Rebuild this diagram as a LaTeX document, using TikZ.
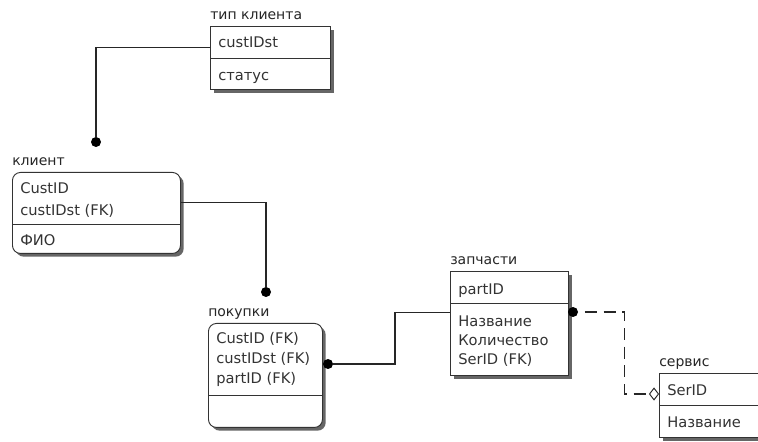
\documentclass[tikz,border=0pt]{standalone}
\usepackage{fontspec}
\setmainfont{DejaVu Sans}
\usetikzlibrary{shadows,shapes.geometric}

\tikzset{
  ent/.style={draw=black!80, fill=white, line width=0.7pt, anchor=north west,
    inner sep=0pt, drop shadow={shadow xshift=2.4pt, shadow yshift=-2.4pt,
    fill=black!60, opacity=1}},
  rent/.style={ent, rounded corners=6pt},
  ttl/.style={anchor=base west, inner sep=0pt, font=\fontsize{10.5}{12}\selectfont, text=black!85},
  fld/.style={anchor=west, inner sep=0pt, text height=8pt, text depth=0pt,
    font=\fontsize{11}{13}\selectfont, text=black!80},
  sep/.style={draw=black!80, line width=0.7pt},
  rel/.style={draw=black!85, line width=0.8pt},
  dot/.style={circle, fill=black, inner sep=0pt, minimum size=7.5pt},
  dia/.style={diamond, draw=black!85, fill=white, line width=0.7pt, inner sep=0pt,
    minimum width=7pt, minimum height=9pt}
}

\begin{document}
\begin{tikzpicture}[x=0.75pt, y=-0.75pt]
\fill[white] (0,0) rectangle (758,442);
\useasboundingbox (0,0) rectangle (758,442);

% тип клиента
\node[ent, minimum width=90pt, minimum height=47.25pt] (tipbox) at (210,26) {};
\node[ttl] (tiptitle) at ([yshift=5pt]tipbox.north west) {тип клиента};
\draw[sep] (tipbox.west |- 0,58) -- (tipbox.east |- 0,58);
\node[fld] (tipkey) at (218,42) {custIDst};
\node[fld] (tipstat) at (218,75) {статус};

% клиент
\node[rent, minimum width=126pt, minimum height=60.75pt] (klbox) at (12,172) {};
\node[ttl] (kltitle) at ([yshift=5pt]klbox.north west) {клиент};
\draw[sep] (klbox.west |- 0,224) -- (klbox.east |- 0,224);
\node[fld] (klid) at (20,188) {CustID};
\node[fld] (kltip) at (20,210) {custIDst (FK)};
\node[fld] (klfio) at (20,240) {ФИО};

% покупки
\node[rent, minimum width=85.5pt, minimum height=78pt] (pokbox) at (208,323) {};
\node[ttl] (poktitle) at ([yshift=5pt]pokbox.north west) {покупки};
\draw[sep] (pokbox.west |- 0,395) -- (pokbox.east |- 0,395);
\node[fld] (pokid) at (216,338) {CustID (FK)};
\node[fld] (poktip) at (216,358) {custIDst (FK)};
\node[fld] (pokpart) at (216,378) {partID (FK)};

% запчасти
\node[ent, minimum width=88.5pt, minimum height=78pt] (zapbox) at (450,271) {};
\node[ttl] (zaptitle) at ([yshift=5pt]zapbox.north west) {запчасти};
\draw[sep] (zapbox.west |- 0,303) -- (zapbox.east |- 0,303);
\node[fld] (zapid) at (458,289) {partID};
\node[fld] (zapname) at (458,321) {Название};
\node[fld] (zapqty) at (458,340) {Количество};
\node[fld] (zapser) at (458,359) {SerID (FK)};

% сервис
\node[ent, minimum width=82.5pt, minimum height=48pt] (serbox) at (659,373) {};
\node[ttl] (sertitle) at ([yshift=5pt]serbox.north west) {сервис};
\draw[sep] (serbox.west |- 0,405) -- (serbox.east |- 0,405);
\node[fld] (serid) at (667,390) {SerID};
\node[fld] (sername) at (667,422) {Название};

% концы связей
\node[dot] (kdot) at (96,142) {};
\node[dot] (pdot) at (266,292) {};
\node[dot] (podot) at (328,364) {};
\node[dot] (zdot) at (573,312) {};
\node[dia] (sdia) at (654,394) {};

% связи
\draw[rel] ([yshift=7.9pt]tipbox.west) -| (kdot);
\draw[rel] ([yshift=7.9pt]klbox.east) -| (pdot);
\coordinate (zapin) at ([yshift=8.25pt]zapbox.west);
\draw[rel] (podot) -| ([xshift=-41.25pt]zapin) -- (zapin);
\draw[rel, dash pattern=on 9pt off 5pt] ([xshift=5pt]zdot.east) -| ([xshift=-18pt]sdia.west) -- (sdia);
\end{tikzpicture}
\end{document}
